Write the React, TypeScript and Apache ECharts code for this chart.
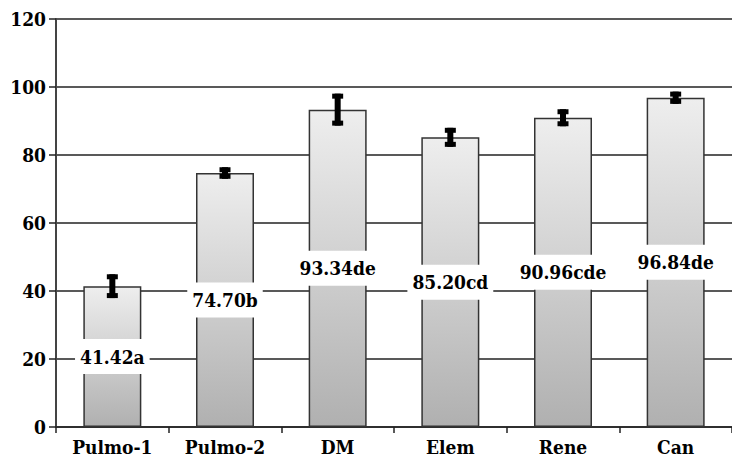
import React, { useEffect, useRef } from "react";
import * as echarts from "echarts";

const categories = ["Pulmo-1", "Pulmo-2", "DM", "Elem", "Rene", "Can"];
const values = [41.42, 74.7, 93.34, 85.2, 90.96, 96.84];
const letters = ["a", "b", "de", "cd", "cde", "de"];
const errors = [3.5, 1.7, 4.7, 2.8, 2.5, 1.8];
const yTicks = { min: 0, max: 120, interval: 20 };

const FONT = "DejaVu Serif Condensed";

export default function App() {
  const ref = useRef<HTMLDivElement>(null);
  useEffect(() => {
    document.body.style.margin = "0";
    const chart = echarts.init(ref.current!, null, { renderer: "svg" });
    const errData = values.map((v, i) => [i, v - errors[i], v + errors[i]]);
    chart.setOption({
      animation: false,
      textStyle: { fontFamily: FONT },
      grid: { left: 56, top: 19, width: 687, height: 408 },
      xAxis: {
        type: "category",
        data: categories,
        axisLine: { show: true, lineStyle: { color: "#222", width: 1.5 } },
        axisTick: { show: true, length: 6, lineStyle: { color: "#222", width: 1.5 } },
        axisLabel: {
          color: "#000",
          interval: 0,
          fontFamily: FONT,
          fontWeight: "bold",
          fontSize: 19,
          margin: 10,
        },
      },
      yAxis: {
        type: "value",
        min: yTicks.min,
        max: yTicks.max,
        interval: yTicks.interval,
        axisLine: { show: true, lineStyle: { color: "#444", width: 2 } },
        axisTick: { show: true, length: 7, lineStyle: { color: "#222", width: 1.5 } },
        splitLine: { show: true, lineStyle: { color: "#222", width: 1.5 } },
        axisLabel: {
          color: "#000",
          fontFamily: FONT,
          fontWeight: "bold",
          fontSize: 19,
          margin: 10,
        },
      },
      series: [
        {
          type: "bar",
          data: values,
          barWidth: 58,
          itemStyle: {
            color: new echarts.graphic.LinearGradient(0, 0, 0, 1, [
              { offset: 0, color: "#eeeeee" },
              { offset: 1, color: "#b0b0b0" },
            ]),
            borderColor: "#333",
            borderWidth: 1.5,
          },
          label: {
            show: true,
            position: "inside",
            formatter: (p: any) => values[p.dataIndex].toFixed(2) + letters[p.dataIndex],
            color: "#000",
            fontFamily: FONT,
            fontWeight: "bold",
            fontSize: 19,
            backgroundColor: "#fff",
            padding: [8, 5],
          },
        },
        {
          type: "custom",
          data: errData,
          encode: { x: 0, y: [1, 2] },
          z: 5,
          renderItem: (params: any, api: any) => {
            const i = api.value(0);
            const lo = api.coord([i, api.value(1)]);
            const hi = api.coord([i, api.value(2)]);
            const x = lo[0];
            const capW = 11;
            const capH = 5;
            return {
              type: "group",
              children: [
                {
                  type: "rect",
                  shape: { x: x - 3, y: hi[1], width: 6, height: lo[1] - hi[1] },
                  style: { fill: "#000" },
                },
                {
                  type: "rect",
                  shape: { x: x - capW / 2, y: hi[1], width: capW, height: capH },
                  style: { fill: "#000" },
                },
                {
                  type: "rect",
                  shape: { x: x - capW / 2, y: lo[1] - capH, width: capW, height: capH },
                  style: { fill: "#000" },
                },
              ],
            };
          },
        },
      ],
    });
    return () => chart.dispose();
  }, []);
  return <div ref={ref} style={{ width: 732, height: 457 }} />;
}
